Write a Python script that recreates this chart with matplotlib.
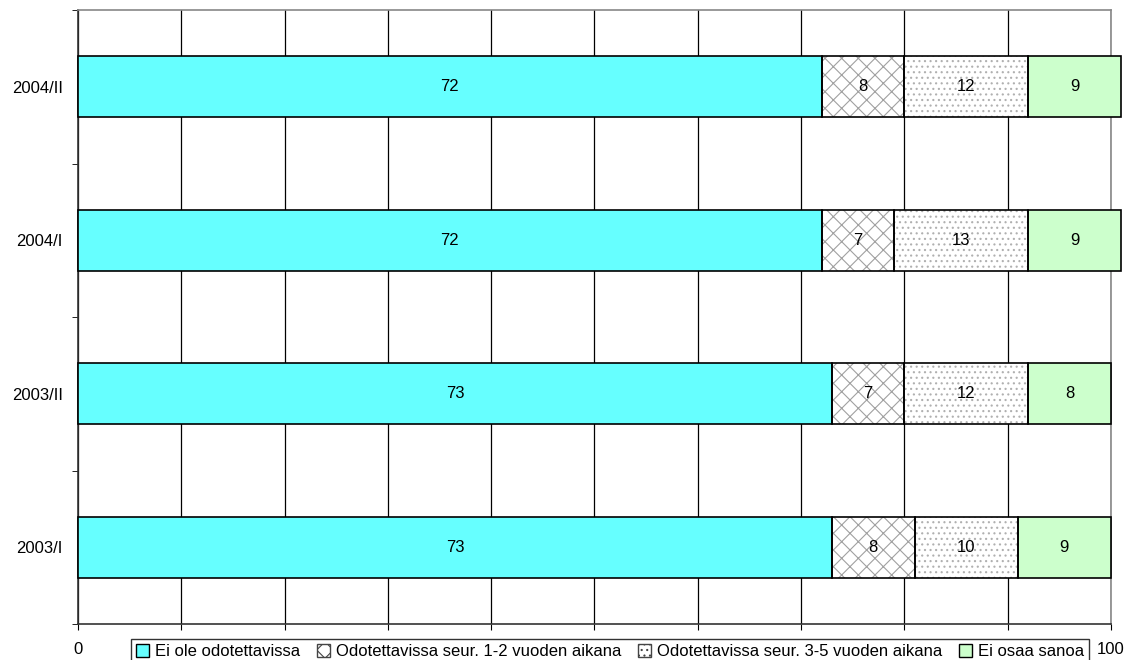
import matplotlib.pyplot as plt
from matplotlib.patches import Patch

plt.rcParams['font.family'] = ['Liberation Sans', 'DejaVu Sans']
plt.rcParams['hatch.linewidth'] = 0.8

kaudet = ["2003/I", "2003/II", "2004/I", "2004/II"]
ei_ole = [73, 73, 72, 72]
v1_2 = [8, 7, 7, 8]
v3_5 = [10, 12, 13, 12]
ei_osaa = [9, 8, 9, 9]
x_merkit = ["0", "", "", "", "", "", "", "", "", "", "100"]

sarjat = [
    ("Ei ole odotettavissa", ei_ole, "#66FFFF", None, None),
    ("Odotettavissa seur. 1-2 vuoden aikana", v1_2, "white", "xx", "#A0A0A0"),
    ("Odotettavissa seur. 3-5 vuoden aikana", v3_5, "white", "...", "#B0B0B0"),
    ("Ei osaa sanoa", ei_osaa, "#CCFFCC", None, None),
]

fig = plt.figure(figsize=(11.4, 6.6), dpi=100)
ax = fig.add_axes([0.0684, 0.0545, 0.906, 0.9303])

y = list(range(len(kaudet)))
vasen = [0] * len(kaudet)
kahvat = []
for nimi, arvot, vari, kuvio, kvari in sarjat:
    if kuvio:
        ax.barh(y, arvot, left=vasen, height=0.4, color=vari, hatch=kuvio,
                edgecolor=kvari, linewidth=0, zorder=3, clip_on=False)
    else:
        ax.barh(y, arvot, left=vasen, height=0.4, color=vari, linewidth=0,
                zorder=3, clip_on=False)
    ax.barh(y, arvot, left=vasen, height=0.4, fill=False, edgecolor="black",
            linewidth=1.2, zorder=4, clip_on=False)
    for i in range(len(kaudet)):
        ax.text(vasen[i] + arvot[i] / 2, y[i], str(arvot[i]), ha="center",
                va="center", fontsize=12, zorder=5)
    vasen = [a + b for a, b in zip(vasen, arvot)]
    kahvat.append(Patch(facecolor=vari, hatch=kuvio,
                        edgecolor="#444444" if kuvio else "black",
                        linewidth=1, label=nimi))

ax.set_xlim(0, 100)
ax.set_ylim(-0.5, len(kaudet) - 0.5)
ax.set_xticks(range(0, 101, 10))
ax.set_xticklabels(x_merkit, fontsize=12)
ax.tick_params(axis="x", direction="out", length=4, pad=9)
ax.set_yticks(y)
ax.set_yticklabels(kaudet, fontsize=12)
ax.tick_params(axis="y", length=0, pad=11)
ax.set_yticks([v - 0.5 for v in range(len(kaudet) + 1)], minor=True)
ax.tick_params(axis="y", which="minor", direction="out", length=4)

ax.grid(axis="x", color="black", linewidth=0.9, zorder=1)
ax.set_axisbelow(True)
ax.spines["top"].set_color("#888888")
ax.spines["right"].set_color("#888888")
ax.spines["left"].set_color("#333333")
ax.spines["bottom"].set_color("#333333")
for s in ax.spines.values():
    s.set_linewidth(1.2)

leg = fig.legend(handles=kahvat, loc="center", bbox_to_anchor=(0.535, 0.013),
                 ncol=4, fontsize=12, frameon=True, fancybox=False,
                 handlelength=0.8, handleheight=0.8, handletextpad=0.35,
                 columnspacing=1.0, borderpad=0.3, borderaxespad=0)
leg.get_frame().set_edgecolor("black")
leg.get_frame().set_linewidth(1)

fig.savefig("out.png", dpi=100)
